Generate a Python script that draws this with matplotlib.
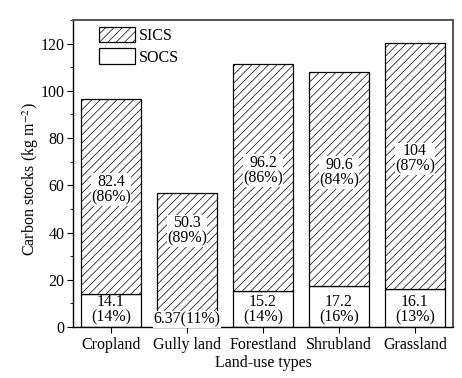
import matplotlib
matplotlib.use("Agg")
import matplotlib.pyplot as plt
from matplotlib.ticker import MultipleLocator
import numpy as np

categories = ["Cropland", "Gully land", "Forestland", "Shrubland", "Grassland"]
socs = [14.1, 6.37, 15.2, 17.2, 16.1]
sics = [82.4, 50.3, 96.2, 90.6, 104]
socs_pct = [14, 11, 14, 16, 13]
sics_pct = [86, 89, 86, 84, 87]
socs_text = ["14.1", "6.37", "15.2", "17.2", "16.1"]
sics_text = ["82.4", "50.3", "96.2", "90.6", "104"]

plt.rcParams['font.family'] = ['Liberation Serif', 'DejaVu Serif']
plt.rcParams['mathtext.fontset'] = 'stix'
plt.rcParams['hatch.linewidth'] = 0.5
plt.rcParams['hatch.color'] = '#444444'

fig = plt.figure(figsize=(4.62, 3.78), dpi=100)
ax = fig.add_axes([0.158, 0.135, 0.8225, 0.812])

x = np.arange(len(categories))
w = 0.79
ax.bar(x, socs, width=w, color='white', edgecolor='black', linewidth=0.9, label='SOCS')
ax.bar(x, sics, width=w, bottom=socs, color='white', edgecolor='black', linewidth=0.9,
       hatch='////', label='SICS')

fs = 11.5
bb = dict(facecolor='white', edgecolor='none', pad=0.3)
for i in range(len(categories)):
    mid = socs[i] + sics[i] / 2
    if i == 1:
        mid = socs[i] + sics[i] * 0.68
    else:
        mid = mid + 3
    ax.text(x[i], mid, f"{sics_text[i]}\n({sics_pct[i]}%)", ha='center', va='center',
            fontsize=fs, linespacing=0.95, bbox=bb)
    if i == 1:
        ax.text(x[i], 3.3, f"{socs_text[i]}({socs_pct[i]}%)", ha='center', va='center',
                fontsize=fs, bbox=bb)
    else:
        ax.text(x[i], 7.2, f"{socs_text[i]}\n({socs_pct[i]}%)", ha='center', va='center',
                fontsize=fs, linespacing=0.95)

ax.set_xlim(-0.5, 4.5)
ax.set_ylim(0, 130)
ax.set_xticks(x)
ax.set_xticklabels(categories, fontsize=fs)
ax.yaxis.set_major_locator(MultipleLocator(20))
ax.yaxis.set_minor_locator(MultipleLocator(10))
ax.tick_params(axis='y', which='major', direction='out', length=4, labelsize=fs, pad=2)
ax.tick_params(axis='y', which='minor', direction='out', length=2.5)
ax.tick_params(axis='x', direction='out', length=4, labelsize=fs)
ax.set_ylabel("Carbon stocks (kg m$^{-2}$)", fontsize=fs)
ax.yaxis.set_label_coords(-0.085, 0.48)
ax.set_xlabel("Land-use types", fontsize=fs, labelpad=1)

for s in ['top', 'right']:
    ax.spines[s].set_color('#555555')
    ax.spines[s].set_linewidth(1.4)
for s in ['left', 'bottom']:
    ax.spines[s].set_linewidth(1.0)

handles, labels = ax.get_legend_handles_labels()
leg = ax.legend(handles[::-1], labels[::-1], loc='upper left', bbox_to_anchor=(0.04, 1.015),
                frameon=False, fontsize=fs, handlelength=2.2, handleheight=1.1,
                labelspacing=0.3, handletextpad=0.3, borderaxespad=0.3)

fig.savefig("out.png", dpi=100)
